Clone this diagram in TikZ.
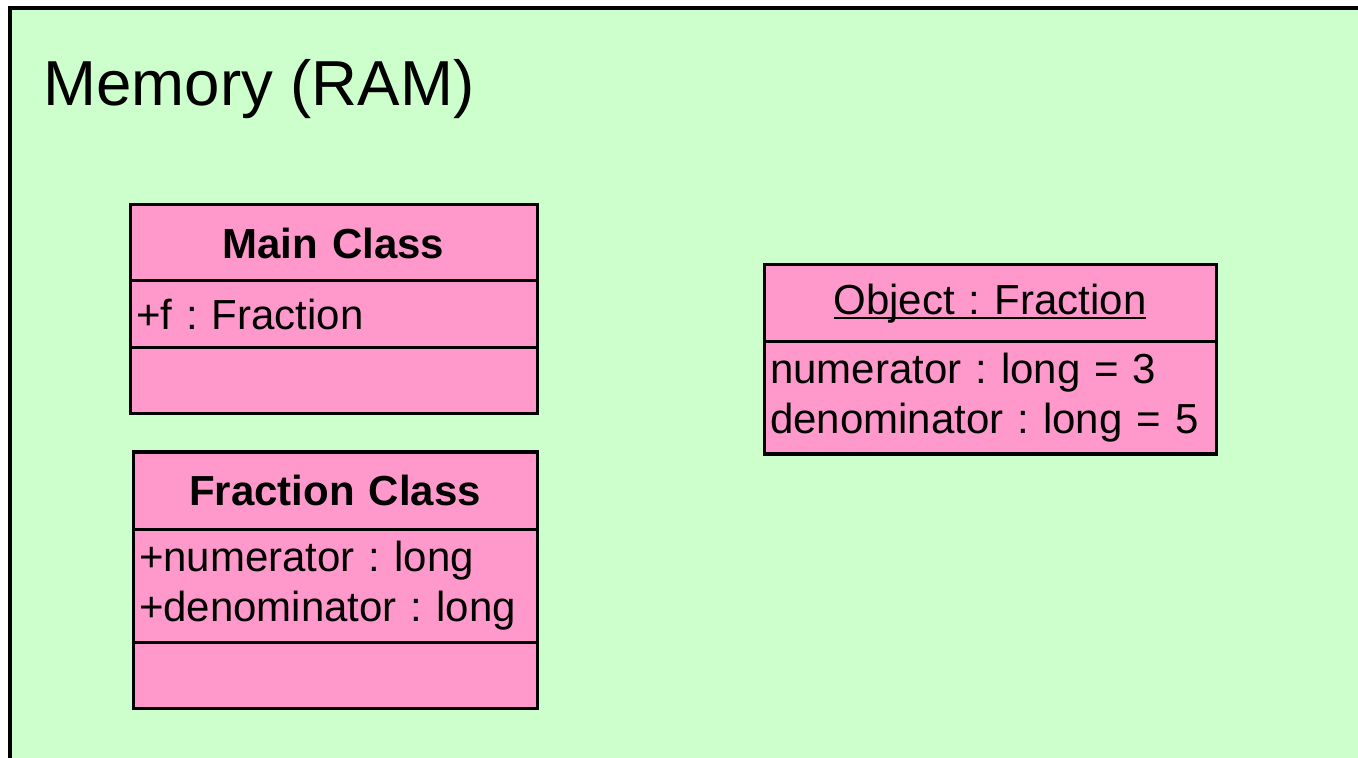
\documentclass[tikz,border=0pt]{standalone}
\usepackage{fontspec}
\setmainfont{Liberation Sans}
\usetikzlibrary{positioning}
\definecolor{ramgreen}{HTML}{CCFFCC}
\definecolor{umlpink}{HTML}{FF99CC}
\frenchspacing
\newcommand{\objuline}[1]{\setbox0\hbox{#1}\rlap{\rule[-2.5pt]{\wd0}{1pt}}\box0}

\begin{document}
\begin{tikzpicture}[x=0.5pt, y=-0.5pt,
		comp/.style={draw, rectangle, fill=umlpink, line width=1.5pt, outer sep=0pt, inner xsep=3pt, inner ysep=0pt, font=\fontsize{21}{25}\selectfont},
		ctitle/.style={comp, font=\fontsize{21}{25}\selectfont\bfseries, align=center},
		otitle/.style={comp, align=center},
		cattr/.style={comp, align=left}]
				\useasboundingbox (0,0) rectangle (1358,758);
				\clip (0,0) rectangle (1358,758);
				\draw[fill=ramgreen, line width=2pt] (10,8) rectangle (1400,800);
				\node[anchor=base west, inner sep=0pt, font=\fontsize{31.8}{38}\selectfont] (ram)at(43, 106) {Memory (RAM)};
				\node[ctitle, anchor=north west, text width=197.5pt, minimum height=38pt] (M)at(130, 205) {Main Class};
				\node[cattr, below=0pt of M, text width=197.5pt, minimum height=33.5pt] (MA) {+f : Fraction};
				\node[comp, below=0pt of MA, minimum width=203.5pt, minimum height=33pt] (MO) {};
				\node[ctitle, anchor=north west, text width=196pt, minimum height=38.5pt] (F)at(133, 452) {Fraction Class};
				\node[cattr, below=0pt of F, text width=196pt, minimum height=56.5pt] (FA) {+numerator : long\\+denominator : long};
				\node[comp, below=0pt of FA, minimum width=202pt, minimum height=33pt] (FO) {};
				\node[otitle, anchor=north west, text width=220pt, minimum height=38.5pt] (O)at(764, 265) {\objuline{Object : Fraction}};
				\node[cattr, below=0pt of O, text width=220pt, minimum height=56pt] (OA) {numerator : long = 3\\denominator : long = 5};
			\end{tikzpicture}
\end{document}
